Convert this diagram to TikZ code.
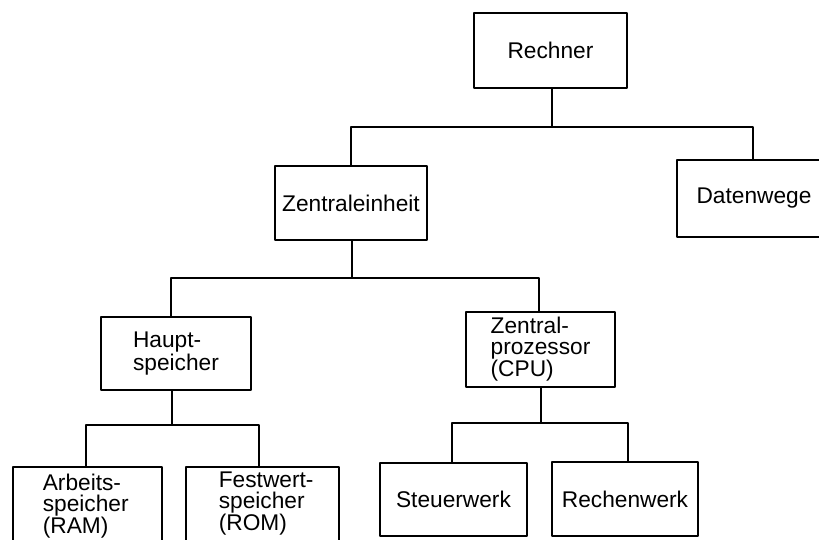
\documentclass[tikz,border=0pt]{standalone}
\usepackage{fontspec}
\setmainfont{Liberation Sans}
\begin{document}
\begin{tikzpicture}[x=1pt,y=-1pt,
  line width=1.7pt, line cap=round, line join=round,
  txt/.style={font=\fontsize{22.7}{21}\selectfont, align=left, inner sep=0pt},
  box/.style={draw, txt, minimum width=#1},
  box/.default=150pt,
  link/.style={line width=1.7pt}
]
\useasboundingbox (0,0) rectangle (819,539);
\clip (0,0) rectangle (819,539);

% boxes
\node[box=153pt, minimum height=75pt] (r)   at (550.5,50.5) {Rechner};
\node[box=152pt, minimum height=74pt] (ze)  at (351,203)    {Zentraleinheit};
\node[box=154pt, minimum height=77pt] (dw)  at (754,198.5)  {Datenwege};
\node[box=150pt, minimum height=73pt] (hs)  at (176,353.5)  {Haupt-\\speicher};
\node[box=149pt, minimum height=75pt] (cpu) at (540.5,349.5){Zentral-\\prozessor\\(CPU)};
\node[box=149pt, minimum height=93pt] (ram) at (87.5,513.5) {};
\node[box=153pt, minimum height=93pt] (rom) at (262.5,513.5){};
\node[box=147pt, minimum height=73pt] (sw)  at (453.5,499.5){Steuerwerk};
\node[box=146pt, minimum height=74pt] (rw)  at (625,499)    {Rechenwerk};

% texts of the clipped boxes
\node[txt, anchor=north west] (ramt) at (42,473.5) {Arbeits-\\speicher\\(RAM)};
\node[txt, anchor=north west] (romt) at (218,471)  {Festwert-\\speicher\\(ROM)};

% bar levels
\coordinate (b1) at (0,127);
\coordinate (b2) at (0,278);
\coordinate (b3) at (0,425);
\coordinate (b4) at (0,423);

% connectors
\draw[link] ([xshift=1.5pt]r.south) -- ([xshift=1.5pt]r.south |- b1);
\draw[link] (ze.north) |- ([xshift=-1pt]dw.north |- b1) -- ([xshift=-1pt]dw.north);

\draw[link] ([xshift=1pt]ze.south) -- ([xshift=1pt]ze.south |- b2);
\draw[link] ([xshift=-5pt]hs.north) |- ([xshift=-1.5pt]cpu.north |- b2) -- ([xshift=-1.5pt]cpu.north);

\draw[link] ([xshift=-4pt]hs.south) -- ([xshift=-4pt]hs.south |- b3);
\draw[link] ([xshift=-1.5pt]ram.north) |- ([xshift=-3.5pt]rom.north |- b3) -- ([xshift=-3.5pt]rom.north);

\draw[link] ([xshift=0.5pt]cpu.south) -- ([xshift=0.5pt]cpu.south |- b4);
\draw[link] ([xshift=-1.5pt]sw.north) |- ([xshift=3pt]rw.north |- b4) -- ([xshift=3pt]rw.north);
\end{tikzpicture}
\end{document}
